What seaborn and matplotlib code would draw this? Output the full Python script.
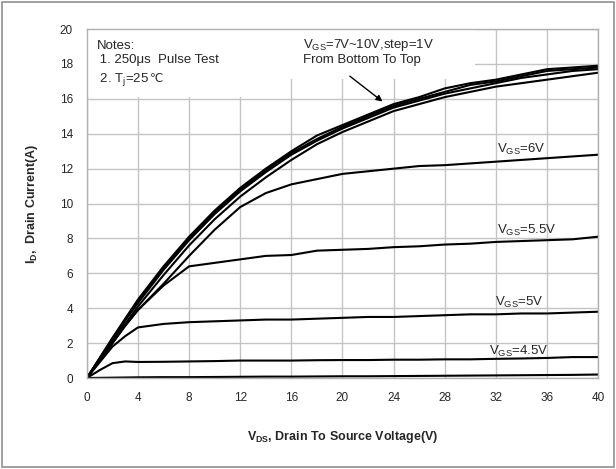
import matplotlib
matplotlib.use('Agg')
import matplotlib.pyplot as plt
import seaborn as sns
from matplotlib.patches import Rectangle

# V_DS points (V)
vds = [0, 1, 2, 3, 4, 6, 8, 10, 12, 14, 16, 18, 20, 22, 24, 26, 28, 30, 32, 34, 36, 38, 40]

# I_D (A) per V_GS curve
id_10v = [0, 1.15, 2.3, 3.4, 4.5, 6.4, 8.1, 9.6, 10.9, 12.0, 13.0, 13.9, 14.5, 15.1, 15.7, 16.1, 16.6, 16.9, 17.1, 17.4, 17.7, 17.8, 17.9]
id_9v = [0, 1.12, 2.25, 3.35, 4.4, 6.3, 8.0, 9.5, 10.8, 11.9, 12.9, 13.7, 14.4, 15.0, 15.6, 16.0, 16.4, 16.8, 17.0, 17.3, 17.6, 17.7, 17.8]
id_8v = [0, 1.1, 2.2, 3.3, 4.3, 6.2, 7.9, 9.4, 10.7, 11.8, 12.8, 13.6, 14.3, 14.9, 15.5, 15.9, 16.3, 16.6, 16.9, 17.2, 17.4, 17.6, 17.7]
id_7v = [0, 1.05, 2.1, 3.1, 4.1, 5.9, 7.6, 9.1, 10.4, 11.5, 12.5, 13.4, 14.1, 14.7, 15.3, 15.7, 16.1, 16.4, 16.7, 16.9, 17.1, 17.3, 17.5]
id_6v = [0, 1.0, 2.0, 3.0, 3.9, 5.4, 7.0, 8.5, 9.8, 10.6, 11.1, 11.4, 11.7, 11.85, 12.0, 12.15, 12.2, 12.3, 12.4, 12.5, 12.6, 12.7, 12.8]
id_55v = [0, 1.0, 2.0, 3.0, 3.9, 5.3, 6.4, 6.6, 6.8, 7.0, 7.05, 7.3, 7.35, 7.4, 7.5, 7.55, 7.65, 7.7, 7.8, 7.85, 7.9, 7.95, 8.1]
id_5v = [0, 0.9, 1.8, 2.4, 2.9, 3.1, 3.2, 3.25, 3.3, 3.35, 3.35, 3.4, 3.45, 3.5, 3.5, 3.55, 3.6, 3.65, 3.65, 3.7, 3.7, 3.75, 3.8]
id_45v = [0, 0.45, 0.85, 0.95, 0.92, 0.93, 0.95, 0.97, 1.0, 1.0, 1.0, 1.02, 1.03, 1.03, 1.05, 1.05, 1.07, 1.07, 1.1, 1.12, 1.15, 1.2, 1.2]
id_4v = [0, 0.01, 0.02, 0.03, 0.04, 0.05, 0.05, 0.06, 0.07, 0.08, 0.08, 0.09, 0.1, 0.1, 0.11, 0.12, 0.13, 0.14, 0.15, 0.16, 0.17, 0.18, 0.2]

curves = [id_4v, id_45v, id_5v, id_55v, id_6v, id_7v, id_8v, id_9v, id_10v]

x_ticks = list(range(0, 41, 4))
y_ticks = list(range(0, 21, 2))

sns.set_style('white')
plt.rcParams['font.family'] = ['Liberation Sans', 'DejaVu Sans']
plt.rcParams['mathtext.default'] = 'regular'

fig = plt.figure(figsize=(6.16, 4.69), dpi=100)
ax = fig.add_axes([0.141, 0.194, 0.830, 0.744])

for c in curves:
    sns.lineplot(x=vds, y=c, color='black', linewidth=1.5, ax=ax)

ax.set_xlim(0, 40)
ax.set_ylim(0, 20)
ax.set_xticks(x_ticks)
ax.set_yticks(y_ticks)
ax.grid(True, color='#c4c4c4', linewidth=1.0)
ax.set_axisbelow(True)
for s in ax.spines.values():
    s.set_color('#b0b0b0')
    s.set_linewidth(1.0)
ax.tick_params(axis='both', length=4, color='#b0b0b0', labelsize=8.5, pad=6)

ax.set_xlabel(r'V$_{DS}$, Drain To Source Voltage(V)', fontsize=9, fontweight='bold', labelpad=18)
ax.set_ylabel(r'I$_{D}$,  Drain Current(A)', fontsize=9, fontweight='bold', labelpad=14)

# white boxes behind the notes
ax.add_patch(Rectangle((0.1, 16.1), 15.5, 3.85, facecolor='white', edgecolor='none', zorder=1.5))
ax.add_patch(Rectangle((15.6, 17.15), 14.8, 2.8, facecolor='white', edgecolor='none', zorder=1.5))

ax.text(0.75, 19.35, 'Notes:\n 1. 250\u03bcs  Pulse Test', fontsize=9.5,
        va='top', ha='left', linespacing=1.15, zorder=3)
t = ax.text(0.75, 16.95, ' 2. T$_j$=25 ', fontsize=9.5, va='baseline', ha='left', zorder=3)
ax.annotate('\u2103', xy=(1, 16.95), xycoords=(t, 'data'), va='baseline', ha='left',
            fontsize=8.5, family='DejaVu Sans', zorder=3)

ax.text(16.9, 19.55, 'V$_{GS}$=7V~10V,step=1V\nFrom Bottom To Top', fontsize=9.5,
        va='top', ha='left', linespacing=1.1, zorder=3)
ax.annotate('', xy=(23.3, 15.75), xytext=(20.4, 17.4),
            arrowprops=dict(arrowstyle='-|>', color='black', lw=1, mutation_scale=9))

ax.text(32.1, 13.1, 'V$_{GS}$=6V', fontsize=9.5, va='center')
ax.text(32.1, 8.45, 'V$_{GS}$=5.5V', fontsize=9.5, va='center')
ax.text(31.9, 4.35, 'V$_{GS}$=5V', fontsize=9.5, va='center')
ax.text(31.5, 1.55, 'V$_{GS}$=4.5V', fontsize=9.5, va='center')

fig.patches.append(Rectangle((0.003, 0.004), 0.994, 0.992, transform=fig.transFigure,
                             facecolor='none', edgecolor='#909090', linewidth=1.2))

fig.savefig('out.png', dpi=100)
